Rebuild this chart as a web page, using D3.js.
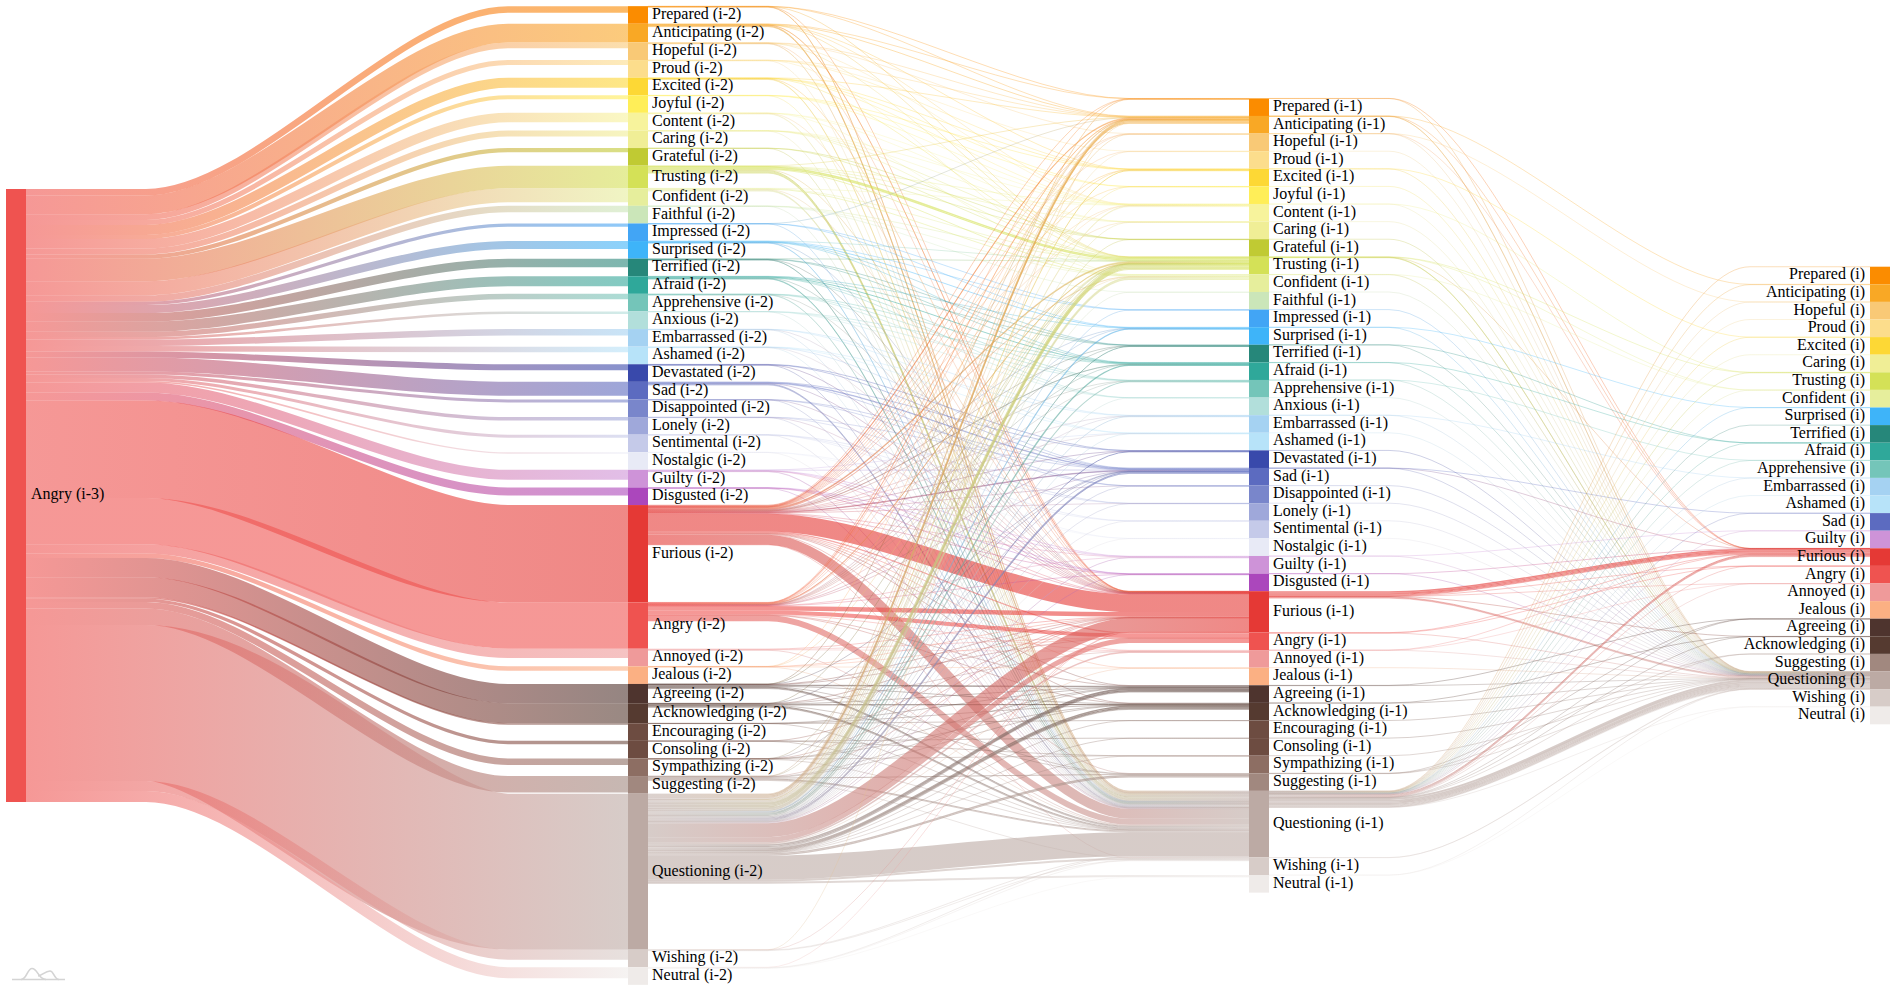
<!DOCTYPE html>
<html>
<head>
<meta charset="utf-8">
<title>Sankey</title>
<script src="https://cdnjs.cloudflare.com/ajax/libs/d3/7.8.5/d3.min.js"></script>
<style>
  html, body { margin: 0; padding: 0; background: #fff; overflow: hidden; }
  text { font-family: "Liberation Serif", "Times New Roman", Times, serif; font-size: 16px; fill: #000; }
</style>
</head>
<body>
<div id="chart"></div>
<script>
var emotions = ["Prepared","Anticipating","Hopeful","Proud","Excited","Joyful","Content","Caring","Grateful","Trusting","Confident","Faithful","Impressed","Surprised","Terrified","Afraid","Apprehensive","Anxious","Embarrassed","Ashamed","Devastated","Sad","Disappointed","Lonely","Sentimental","Nostalgic","Guilty","Disgusted","Furious","Angry","Annoyed","Jealous","Agreeing","Acknowledging","Encouraging","Consoling","Sympathizing","Suggesting","Questioning","Wishing","Neutral"];

var lastStep = ["Prepared","Anticipating","Hopeful","Proud","Excited","Caring","Trusting","Confident","Surprised","Terrified","Afraid","Apprehensive","Embarrassed","Ashamed","Sad","Guilty","Furious","Angry","Annoyed","Jealous","Agreeing","Acknowledging","Suggesting","Questioning","Wishing","Neutral"];

var emotionColors = ["#fb8c00","#f9a825","#f9c976","#fcdd8c","#fdd835","#ffee58","#f7f39c","#f0ee96","#c0ca33","#d4e157","#e6ee9c","#cbe6b9","#42a5f5","#3eb4f9","#26877a","#2fa89a","#74c5b9","#b2dfdb","#a5d2f2","#b7e3f9","#3949ab","#5c6bc0","#7986cb","#9fa8da","#c5cae9","#e8eaf6","#ce93d8","#ab47bc","#e53935","#ef5350","#ef9a9a","#fbb083","#4e342e","#553a30","#6d4c41","#6d4c41","#8d6e63","#a1887f","#bcaaa4","#d7ccc8","#efebe9"];

// Angry (i-3) -> (i-2), same order as emotions
var fromStart = [6.5,18.7,5.7,5,10,4,9.5,6,4.3,22.6,14,6.5,3.3,8,8.7,10,5.3,2.5,6.5,5.5,6,14,3,3.5,3,1.5,10,8,97.3,46.4,9.3,4.3,19.3,20,1.5,3.3,6.5,16.5,156,10,11];

// (i-2) -> (i-1): source, target, value. Repeated pairs are separate strands in the picture
var flowsPrev = [
  ["Prepared","Prepared",.2],["Prepared","Anticipating",.2],["Prepared","Trusting",.1],["Prepared","Furious",.1],["Prepared","Questioning",.3],["Prepared","Questioning",.3],
  ["Anticipating","Prepared",.2],["Anticipating","Anticipating",.6],["Anticipating","Excited",.2],["Anticipating","Content",.1],["Anticipating","Trusting",.2],["Anticipating","Furious",.2],["Anticipating","Furious",.1],["Anticipating","Questioning",.5],["Anticipating","Questioning",.4],["Anticipating","Questioning",.3],["Anticipating","Questioning",.2],
  ["Hopeful","Anticipating",.3],["Hopeful","Hopeful",.2],["Hopeful","Content",.2],["Hopeful","Trusting",.2],["Hopeful","Furious",.1],["Hopeful","Questioning",.3],["Hopeful","Questioning",.2],
  ["Proud","Anticipating",.1],["Proud","Proud",.1],["Proud","Excited",.2],["Proud","Confident",.2],["Proud","Questioning",.4],
  ["Excited","Anticipating",.2],["Excited","Excited",.4],["Excited","Joyful",.1],["Excited","Content",.2],["Excited","Trusting",.2],["Excited","Furious",.1],["Excited","Questioning",.4],["Excited","Questioning",.4],
  ["Joyful","Excited",.1],["Joyful","Joyful",.2],["Joyful","Content",.1],["Joyful","Questioning",.3],
  ["Content","Content",.2],["Content","Caring",.1],["Content","Confident",.1],["Content","Furious",.1],["Content","Questioning",.5],["Content","Questioning",.3],
  ["Caring","Content",.1],["Caring","Caring",.2],["Caring","Grateful",.1],["Caring","Trusting",.2],["Caring","Questioning",.4],
  ["Grateful","Grateful",.1],["Grateful","Trusting",.2],["Grateful","Questioning",.3],
  ["Trusting","Anticipating",.3],["Trusting","Content",.3],["Trusting","Caring",.2],["Trusting","Grateful",.1],["Trusting","Trusting",1.4],["Trusting","Trusting",1.2],["Trusting","Confident",.8],["Trusting","Furious",.3],["Trusting","Questioning",1],["Trusting","Questioning",.8],["Trusting","Questioning",.6],["Trusting","Questioning",.4],["Trusting","Questioning",.2],
  ["Confident","Content",.1],["Confident","Trusting",.3],["Confident","Confident",.9],["Confident","Furious",.2],["Confident","Questioning",.7],["Confident","Questioning",.5],["Confident","Questioning",.3],
  ["Faithful","Trusting",.2],["Faithful","Confident",.1],["Faithful","Faithful",.2],["Faithful","Questioning",.2],
  ["Impressed","Anticipating",.1],["Impressed","Impressed",.2],["Impressed","Surprised",.2],["Impressed","Questioning",.2],
  ["Surprised","Trusting",.1],["Surprised","Impressed",.2],["Surprised","Surprised",.7],["Surprised","Terrified",.3],["Surprised","Afraid",.2],["Surprised","Furious",.1],["Surprised","Questioning",.4],["Surprised","Questioning",.3],
  ["Terrified","Trusting",.3],["Terrified","Terrified",.3],["Terrified","Afraid",.3],["Terrified","Furious",.1],["Terrified","Questioning",.3],["Terrified","Questioning",.2],
  ["Afraid","Surprised",.1],["Afraid","Terrified",.3],["Afraid","Afraid",.8],["Afraid","Apprehensive",.4],["Afraid","Anxious",.1],["Afraid","Furious",.2],["Afraid","Questioning",.5],["Afraid","Questioning",.3],["Afraid","Questioning",.2],
  ["Apprehensive","Afraid",.2],["Apprehensive","Apprehensive",.4],["Apprehensive","Anxious",.1],["Apprehensive","Furious",.1],["Apprehensive","Questioning",.3],["Apprehensive","Questioning",.3],
  ["Anxious","Afraid",.1],["Anxious","Apprehensive",.1],["Anxious","Anxious",.1],["Anxious","Questioning",.2],
  ["Embarrassed","Embarrassed",.3],["Embarrassed","Ashamed",.2],["Embarrassed","Furious",.1],["Embarrassed","Questioning",.4],
  ["Ashamed","Embarrassed",.3],["Ashamed","Ashamed",.3],["Ashamed","Sad",.2],["Ashamed","Furious",.1],["Ashamed","Questioning",.4],
  ["Devastated","Devastated",.3],["Devastated","Sad",.3],["Devastated","Furious",.2],["Devastated","Questioning",.5],
  ["Sad","Devastated",.3],["Sad","Sad",.6],["Sad","Sad",.4],["Sad","Disappointed",.2],["Sad","Furious",.3],["Sad","Questioning",.7],["Sad","Questioning",.5],["Sad","Questioning",.3],
  ["Disappointed","Sad",.2],["Disappointed","Disappointed",.1],["Disappointed","Furious",.1],["Disappointed","Questioning",.3],
  ["Lonely","Sad",.2],["Lonely","Lonely",.2],["Lonely","Furious",.1],["Lonely","Questioning",.2],
  ["Sentimental","Lonely",.1],["Sentimental","Sentimental",.15],["Sentimental","Nostalgic",.1],["Sentimental","Questioning",.15],
  ["Nostalgic","Sentimental",.1],["Nostalgic","Nostalgic",.1],["Nostalgic","Questioning",.1],
  ["Guilty","Ashamed",.2],["Guilty","Sad",.3],["Guilty","Guilty",.6],["Guilty","Disgusted",.1],["Guilty","Furious",.2],["Guilty","Questioning",.3],["Guilty","Questioning",.3],
  ["Disgusted","Guilty",.2],["Disgusted","Disgusted",.4],["Disgusted","Furious",.3],["Disgusted","Questioning",.4],
  ["Furious","Prepared",.2],["Furious","Anticipating",.5],["Furious","Anticipating",.4],["Furious","Anticipating",.3],["Furious","Hopeful",.2],["Furious","Proud",.1],["Furious","Excited",.3],["Furious","Joyful",.1],["Furious","Content",.3],["Furious","Caring",.1],["Furious","Trusting",.5],["Furious","Trusting",.4],["Furious","Trusting",.3],["Furious","Trusting",.3],["Furious","Confident",.3],["Furious","Confident",.3],["Furious","Surprised",.3],["Furious","Terrified",.3],["Furious","Afraid",.3],["Furious","Afraid",.2],["Furious","Apprehensive",.3],["Furious","Embarrassed",.3],["Furious","Ashamed",.1],["Furious","Devastated",.3],["Furious","Sad",.4],["Furious","Sad",.3],["Furious","Sad",.2],["Furious","Disappointed",.2],["Furious","Lonely",.1],["Furious","Guilty",.4],["Furious","Disgusted",.4],["Furious","Furious",17.7],["Furious","Angry",.6],["Furious","Angry",.4],["Furious","Annoyed",.6],["Furious","Jealous",.2],["Furious","Agreeing",.5],["Furious","Acknowledging",.5],["Furious","Suggesting",.4],["Furious","Questioning",10],["Furious","Wishing",.3],
  ["Angry","Prepared",.1],["Angry","Anticipating",.3],["Angry","Anticipating",.3],["Angry","Hopeful",.1],["Angry","Excited",.2],["Angry","Content",.1],["Angry","Trusting",.3],["Angry","Trusting",.3],["Angry","Trusting",.2],["Angry","Confident",.3],["Angry","Surprised",.1],["Angry","Terrified",.1],["Angry","Afraid",.2],["Angry","Apprehensive",.1],["Angry","Embarrassed",.2],["Angry","Devastated",.1],["Angry","Sad",.3],["Angry","Guilty",.2],["Angry","Disgusted",.1],["Angry","Furious",4.5],["Angry","Angry",4],["Angry","Annoyed",.5],["Angry","Agreeing",.2],["Angry","Acknowledging",.2],["Angry","Questioning",6],
  ["Annoyed","Furious",.6],["Annoyed","Angry",.3],["Annoyed","Annoyed",.3],["Annoyed","Questioning",.7],
  ["Jealous","Anticipating",.1],["Jealous","Trusting",.1],["Jealous","Furious",.1],["Jealous","Angry",.1],["Jealous","Jealous",.3],["Jealous","Questioning",.3],
  ["Agreeing","Anticipating",.1],["Agreeing","Trusting",.2],["Agreeing","Sad",.1],["Agreeing","Furious",.3],["Agreeing","Angry",.2],["Agreeing","Agreeing",.7],["Agreeing","Agreeing",.5],["Agreeing","Acknowledging",.5],["Agreeing","Suggesting",.3],["Agreeing","Questioning",.9],["Agreeing","Questioning",.6],["Agreeing","Questioning",.5],
  ["Acknowledging","Trusting",.1],["Acknowledging","Sad",.1],["Acknowledging","Furious",.3],["Acknowledging","Annoyed",.1],["Acknowledging","Agreeing",.5],["Acknowledging","Acknowledging",1],["Acknowledging","Suggesting",.2],["Acknowledging","Questioning",.9],["Acknowledging","Questioning",.6],["Acknowledging","Questioning",.5],
  ["Encouraging","Agreeing",.1],["Encouraging","Acknowledging",.1],["Encouraging","Encouraging",.1],["Encouraging","Questioning",.2],
  ["Consoling","Furious",.1],["Consoling","Consoling",.1],["Consoling","Sympathizing",.1],["Consoling","Questioning",.2],
  ["Sympathizing","Trusting",.1],["Sympathizing","Sad",.1],["Sympathizing","Furious",.1],["Sympathizing","Agreeing",.1],["Sympathizing","Acknowledging",.1],["Sympathizing","Sympathizing",.2],["Sympathizing","Questioning",.3],
  ["Suggesting","Anticipating",.1],["Suggesting","Trusting",.2],["Suggesting","Furious",.3],["Suggesting","Agreeing",.5],["Suggesting","Acknowledging",.4],["Suggesting","Suggesting",.9],["Suggesting","Questioning",1],["Suggesting","Questioning",.8],["Suggesting","Wishing",.3],
  ["Questioning","Prepared",.6],["Questioning","Anticipating",1.4],["Questioning","Anticipating",1.1],["Questioning","Anticipating",1],["Questioning","Hopeful",.7],["Questioning","Proud",.5],["Questioning","Excited",1],["Questioning","Joyful",.4],["Questioning","Content",.7],["Questioning","Content",.5],["Questioning","Caring",.6],["Questioning","Grateful",.4],["Questioning","Trusting",2],["Questioning","Trusting",1.5],["Questioning","Trusting",1.2],["Questioning","Trusting",.8],["Questioning","Confident",1.4],["Questioning","Confident",1.2],["Questioning","Faithful",.3],["Questioning","Impressed",.5],["Questioning","Surprised",1.1],["Questioning","Terrified",.9],["Questioning","Afraid",1.4],["Questioning","Apprehensive",1.1],["Questioning","Anxious",.3],["Questioning","Embarrassed",.8],["Questioning","Ashamed",.6],["Questioning","Devastated",.9],["Questioning","Sad",1.3],["Questioning","Sad",.9],["Questioning","Disappointed",.4],["Questioning","Lonely",.4],["Questioning","Sentimental",.2],["Questioning","Nostalgic",.1],["Questioning","Guilty",.8],["Questioning","Disgusted",.5],["Questioning","Furious",14],["Questioning","Angry",5],["Questioning","Annoyed",1.5],["Questioning","Jealous",.5],["Questioning","Agreeing",1.6],["Questioning","Agreeing",1.2],["Questioning","Agreeing",.7],["Questioning","Agreeing",.5],["Questioning","Acknowledging",1.6],["Questioning","Acknowledging",1.2],["Questioning","Acknowledging",.7],["Questioning","Acknowledging",.5],["Questioning","Encouraging",.3],["Questioning","Consoling",.3],["Questioning","Sympathizing",.4],["Questioning","Suggesting",1.4],["Questioning","Suggesting",1.1],["Questioning","Questioning",24],["Questioning","Wishing",2],["Questioning","Neutral",2],
  ["Wishing","Anticipating",.1],["Wishing","Furious",.1],["Wishing","Wishing",.6],["Wishing","Questioning",.5],
  ["Neutral","Furious",.1],["Neutral","Wishing",.2],["Neutral","Neutral",.5],["Neutral","Questioning",.6]
];

// (i-1) -> (i): repeated pairs are separate strands in the picture
var flowsLast = [
  ["Prepared","Furious",.1],["Prepared","Questioning",.1],
  ["Anticipating","Anticipating",.1],["Anticipating","Furious",.1],["Anticipating","Questioning",.2],["Anticipating","Questioning",.2],
  ["Hopeful","Hopeful",.05],["Hopeful","Furious",.05],["Hopeful","Questioning",.15],
  ["Proud","Questioning",.1],
  ["Excited","Excited",.05],["Excited","Questioning",.2],
  ["Joyful","Questioning",.1],
  ["Content","Trusting",.05],["Content","Questioning",.2],
  ["Caring","Questioning",.15],
  ["Grateful","Questioning",.1],
  ["Trusting","Trusting",.2],["Trusting","Confident",.1],["Trusting","Furious",.1],["Trusting","Questioning",.3],["Trusting","Questioning",.2],["Trusting","Questioning",.1],
  ["Confident","Confident",.1],["Confident","Questioning",.2],["Confident","Questioning",.1],
  ["Faithful","Questioning",.05],
  ["Impressed","Questioning",.05],
  ["Surprised","Surprised",.1],["Surprised","Questioning",.25],
  ["Terrified","Afraid",.1],["Terrified","Questioning",.15],
  ["Afraid","Afraid",.15],["Afraid","Questioning",.3],
  ["Apprehensive","Apprehensive",.05],["Apprehensive","Questioning",.15],
  ["Anxious","Questioning",.05],
  ["Embarrassed","Embarrassed",.05],["Embarrassed","Questioning",.1],
  ["Ashamed","Questioning",.1],
  ["Devastated","Questioning",.1],
  ["Sad","Sad",.1],["Sad","Furious",.05],["Sad","Questioning",.35],
  ["Disappointed","Questioning",.1],
  ["Lonely","Questioning",.05],
  ["Sentimental","Questioning",.05],
  ["Nostalgic","Questioning",.03],
  ["Guilty","Guilty",.1],["Guilty","Questioning",.15],
  ["Disgusted","Furious",.1],["Disgusted","Questioning",.1],
  ["Furious","Furious",1.4],["Furious","Furious",1.2],["Furious","Furious",1],["Furious","Furious",.8],["Furious","Furious",.6],["Furious","Angry",.1],["Furious","Annoyed",.1],["Furious","Acknowledging",.2],["Furious","Questioning",.7],["Furious","Questioning",.6],["Furious","Questioning",.5],
  ["Angry","Furious",.4],["Angry","Angry",.1],["Angry","Questioning",.3],
  ["Annoyed","Furious",.1],["Annoyed","Annoyed",.05],["Annoyed","Questioning",.1],
  ["Jealous","Questioning",.05],
  ["Agreeing","Agreeing",.2],["Agreeing","Questioning",.3],
  ["Acknowledging","Acknowledging",.1],["Acknowledging","Questioning",.35],
  ["Encouraging","Questioning",.05],
  ["Consoling","Questioning",.05],
  ["Sympathizing","Questioning",.1],
  ["Suggesting","Agreeing",.05],["Suggesting","Suggesting",.1],["Suggesting","Questioning",.4],
  ["Questioning","Prepared",.1],["Questioning","Anticipating",.5],["Questioning","Hopeful",.2],["Questioning","Proud",.05],["Questioning","Excited",.25],["Questioning","Caring",.1],["Questioning","Trusting",.6],["Questioning","Confident",.2],["Questioning","Surprised",.2],["Questioning","Terrified",.1],["Questioning","Afraid",.35],["Questioning","Apprehensive",.2],["Questioning","Embarrassed",.15],["Questioning","Ashamed",.1],["Questioning","Sad",.2],["Questioning","Guilty",.2],
  ["Questioning","Furious",.9],["Questioning","Furious",.7],["Questioning","Furious",.5],["Questioning","Furious",.4],["Questioning","Angry",.3],["Questioning","Annoyed",.15],["Questioning","Agreeing",.25],["Questioning","Acknowledging",.2],["Questioning","Suggesting",.15],
  ["Questioning","Questioning",2],["Questioning","Questioning",1.6],["Questioning","Questioning",1.3],["Questioning","Questioning",1.1],["Questioning","Questioning",1],["Questioning","Questioning",.8],["Questioning","Questioning",.7],["Questioning","Questioning",.7],
  ["Questioning","Wishing",.2],["Questioning","Neutral",.1],
  ["Wishing","Wishing",.1],["Wishing","Questioning",.2],
  ["Neutral","Neutral",.02],["Neutral","Questioning",.1]
];

var width = 1899, height = 993;
var nodeWidth = 20, minNodeValue = 17.6, tail = 120, centerY = 495.5;
var curveShare = 0.3;
var columnX = [6, 628, 1249, 1870];
var suffix = ["(i-3)", "(i-2)", "(i-1)", "(i)"];
var order = new Map(emotions.map(function (d, i) { return [d, i]; }));

var color = d3.scaleOrdinal().domain(emotions).range(emotionColors);
var h = d3.scaleLinear().domain([0, 611]).range([0, 611]);

var svg = d3.select("#chart").append("svg")
  .attr("width", width)
  .attr("height", height)
  .style("display", "block");

// links as objects, one list per gap
var gaps = [
  emotions.map(function (d, i) { return { source: "Angry", target: d, value: fromStart[i] }; }),
  flowsPrev.map(function (d) { return { source: d[0], target: d[1], value: d[2] }; }),
  flowsLast.map(function (d) { return { source: d[0], target: d[1], value: d[2] }; })
];

var columns = [["Angry"], emotions, emotions, lastStep].map(function (names, c) {
  var nodes = names.map(function (name) {
    var inflow = c > 0 ? d3.sum(gaps[c - 1].filter(function (l) { return l.target === name; }), function (l) { return l.value; }) : d3.sum(fromStart);
    return { name: name, column: c, value: Math.max(inflow, minNodeValue) };
  });
  var y = centerY - h(d3.sum(nodes, function (n) { return n.value; })) / 2;
  nodes.forEach(function (n) {
    n.y0 = y;
    n.y1 = y + h(n.value);
    n.outY = y;
    n.inY = y;
    y = n.y1;
  });
  return nodes;
});

// stack links on the nodes: by target at the source end, by source at the target end
gaps.forEach(function (links, g) {
  var left = new Map(columns[g].map(function (n) { return [n.name, n]; }));
  var right = new Map(columns[g + 1].map(function (n) { return [n.name, n]; }));
  links.forEach(function (l, i) { l.index = i; l.gap = g; });
  links.slice().sort(function (a, b) {
    return d3.ascending(order.get(a.source), order.get(b.source)) || d3.ascending(order.get(a.target), order.get(b.target)) || a.index - b.index;
  }).forEach(function (l) {
    var n = left.get(l.source);
    l.width = h(l.value);
    l.y0 = n.outY + l.width / 2;
    n.outY += l.width;
  });
  links.slice().sort(function (a, b) {
    return d3.ascending(order.get(a.target), order.get(b.target)) || d3.ascending(order.get(a.source), order.get(b.source)) || a.index - b.index;
  }).forEach(function (l) {
    var n = right.get(l.target);
    l.y1 = n.inY + l.width / 2;
    n.inY += l.width;
  });
});

function linkPath(l) {
  var x0 = columnX[l.gap] + nodeWidth, x1 = columnX[l.gap + 1];
  var a = x0 + tail, b = x1 - tail, c = (b - a) * curveShare;
  var p = d3.path();
  p.moveTo(x0, l.y0);
  p.lineTo(a, l.y0);
  p.bezierCurveTo(a + c, l.y0, b - c, l.y1, b, l.y1);
  p.lineTo(x1, l.y1);
  return p.toString();
}

var defs = svg.append("defs");
var allLinks = d3.merge(gaps);

allLinks.forEach(function (l, i) {
  var grad = defs.append("linearGradient")
    .attr("id", "grad" + i)
    .attr("gradientUnits", "userSpaceOnUse")
    .attr("x1", columnX[l.gap] + nodeWidth)
    .attr("x2", columnX[l.gap + 1]);
  grad.append("stop").attr("offset", "0%").attr("stop-color", color(l.source));
  grad.append("stop").attr("offset", "100%").attr("stop-color", color(l.target));
});

svg.append("g")
  .attr("fill", "none")
  .selectAll("path")
  .data(allLinks)
  .join("path")
    .attr("d", linkPath)
    .attr("stroke", function (d, i) { return "url(#grad" + i + ")"; })
    .attr("stroke-width", function (d) { return Math.max(d.width, 0.5); })
    .attr("stroke-opacity", 0.6);

var nodes = d3.merge(columns);

svg.append("g")
  .selectAll("rect")
  .data(nodes)
  .join("rect")
    .attr("x", function (d) { return columnX[d.column]; })
    .attr("y", function (d) { return d.y0; })
    .attr("width", nodeWidth)
    .attr("height", function (d) { return d.y1 - d.y0; })
    .attr("fill", function (d) { return color(d.name); });

svg.append("g")
  .selectAll("text")
  .data(nodes)
  .join("text")
    .attr("x", function (d) {
      if (d.column === 3) return columnX[3] - 5;
      return columnX[d.column] + nodeWidth + (d.column === 0 ? 5 : 4);
    })
    .attr("y", function (d) { return (d.y0 + d.y1) / 2 - 1.7; })
    .attr("dy", "0.35em")
    .attr("text-anchor", function (d) { return d.column === 3 ? "end" : "start"; })
    .text(function (d) { return d.name + " " + suffix[d.column]; });

// small logo, bottom left
var logo = svg.append("g").attr("fill", "none").attr("stroke", "#d4d4d4").attr("stroke-width", 1.6);
logo.append("path").attr("d", "M12,979.5H65");
logo.append("path").attr("d", "M21,979.5C27,979.5 27,968.5 32,968.5C38,968.5 38,979.5 46,979.5");
logo.append("path").attr("d", "M38,976C42,976 45,971 50,971C54,971 54,979.5 59,979.5");
</script>
</body>
</html>
